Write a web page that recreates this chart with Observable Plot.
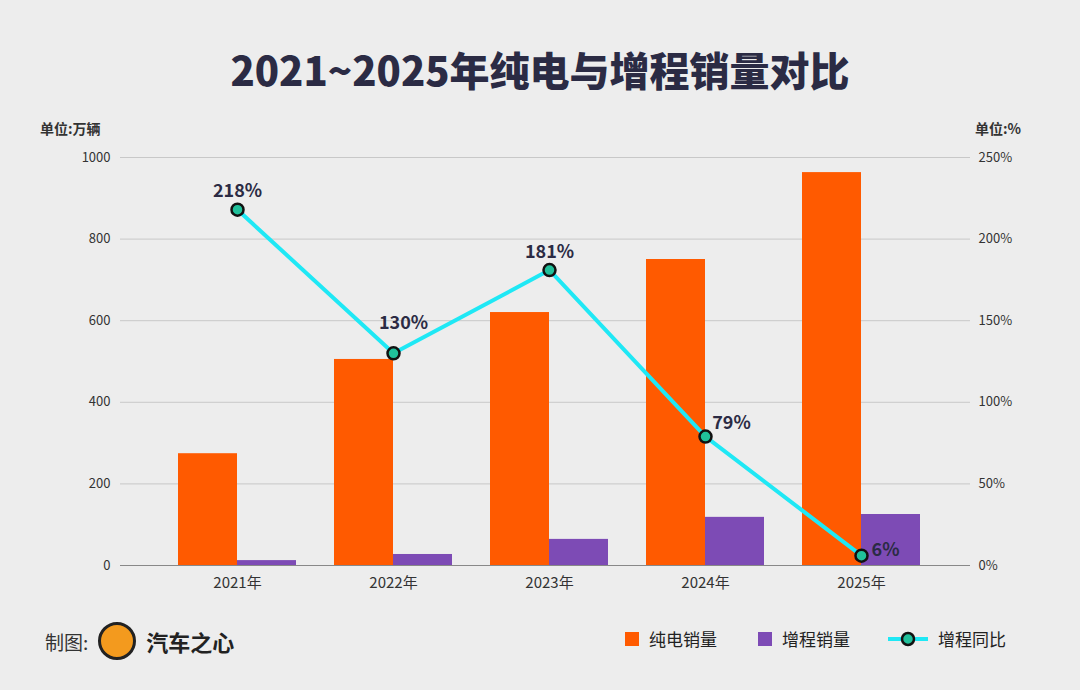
<!DOCTYPE html>
<html><head><meta charset="utf-8">
<script src="https://cdn.jsdelivr.net/npm/d3@7"></script>
<script src="https://cdn.jsdelivr.net/npm/@observablehq/plot@0.6"></script>
<style>
body{margin:0;width:1080px;height:690px;background:#ededed;font-family:"Noto Sans CJK SC","Noto Sans",sans-serif;position:relative;overflow:hidden}
.abs{position:absolute}
#title{top:40px;left:0;width:1080px;text-align:center;font-size:40px;font-weight:900;color:#2b2b44}
.unit{top:118px;font-size:14px;font-weight:700;color:#333}
#chart{top:110px;left:0}
.leg{top:626px;font-size:17px;color:#222;display:flex;align-items:center;gap:10px}
.sw{width:14px;height:14px;display:inline-block}
</style></head><body>
<div id="title" class="abs">2021~2025年纯电与增程销量对比</div>
<div class="abs unit" style="left:40px">单位:万辆</div>
<div class="abs unit" style="left:975px">单位:%</div>
<div id="chart" class="abs"></div>
<div class="abs" style="top:622px;left:45px;font-size:19px;color:#333;display:flex;align-items:center;gap:10px">制图:<span style="width:38px;height:38px;border-radius:50%;background:#f39a1e;display:inline-block;border:3px solid #222;box-sizing:border-box"></span><b style="font-size:22px;color:#222">汽车之心</b></div>
<div class="abs leg" style="left:625px"><span class="sw" style="background:#ff5a00"></span>纯电销量</div>
<div class="abs leg" style="left:758px"><span class="sw" style="background:#7d4bb5"></span>增程销量</div>
<div class="abs leg" style="left:888px"><svg width="40" height="16"><line x1="0" y1="8" x2="40" y2="8" stroke="#1fe8f5" stroke-width="4"/><circle cx="20" cy="8" r="6" fill="#20c09a" stroke="#111" stroke-width="2.5"/></svg>增程同比</div>
<script>
const years=["2021年","2022年","2023年","2024年","2025年"];
const bev=[274,505,620,750,963];
const erev=[12,27,64,118,125];
const yoy=[218,130,181,79,6];
const data=years.map((y,i)=>({year:y,bev:bev[i],erev:erev[i],yoy:yoy[i]}));
const navy="#2b2b44";
const ty=d=>d.yoy*4;
const lab=d=>d.yoy+"%";
const chart=Plot.plot({
  width:1080,height:490,marginLeft:120,marginRight:110,marginTop:47,marginBottom:35,
  style:{background:"transparent",fontSize:"13px",fontFamily:"Noto Sans CJK SC, Noto Sans, sans-serif",color:"#333"},
  x:{domain:years,paddingInner:0.244,paddingOuter:0.34,range:[124,973],label:null},
  y:{domain:[0,1000],label:null},
  marks:[
    Plot.ruleY([200,400,600,800,1000],{stroke:"#c8c8c8"}),
    Plot.ruleY([0],{stroke:"#888"}),
    Plot.axisY({ticks:[0,200,400,600,800,1000],tickFormat:d=>String(d),tickSize:0,tickPadding:10,label:null}),
    Plot.axisY({anchor:"right",ticks:[0,200,400,600,800,1000],tickFormat:d=>d/4+"%",tickSize:0,tickPadding:8,label:null}),
    Plot.axisX({tickSize:0,tickPadding:12,fontSize:15,label:null}),
    Plot.barY(data,{x:"year",y:"bev",fill:"#ff5a00",insetRight:59}),
    Plot.barY(data,{x:"year",y:"erev",fill:"#7d4bb5",insetLeft:59}),
    Plot.line(data,{x:"year",y:ty,stroke:"#1fe8f5",strokeWidth:4}),
    Plot.dot(data,{x:"year",y:ty,r:6,fill:"#20c09a",stroke:"#111",strokeWidth:2.5}),
    Plot.text(data.filter((d,i)=>i!==1&&i<3),{x:"year",y:ty,text:lab,dy:-18,fill:navy,fontWeight:"bold",fontSize:18}),
    Plot.text(data.slice(1,2),{x:"year",y:ty,text:lab,dy:-30,dx:10,fill:navy,fontWeight:"bold",fontSize:18}),
    Plot.text(data.slice(3,4),{x:"year",y:ty,text:lab,dy:-13,dx:26,fill:navy,fontWeight:"bold",fontSize:18}),
    Plot.text(data.slice(4),{x:"year",y:ty,text:lab,dy:-5,dx:24,fill:navy,fontWeight:"bold",fontSize:18})
  ]
});
document.getElementById("chart").appendChild(chart);
</script></body></html>
